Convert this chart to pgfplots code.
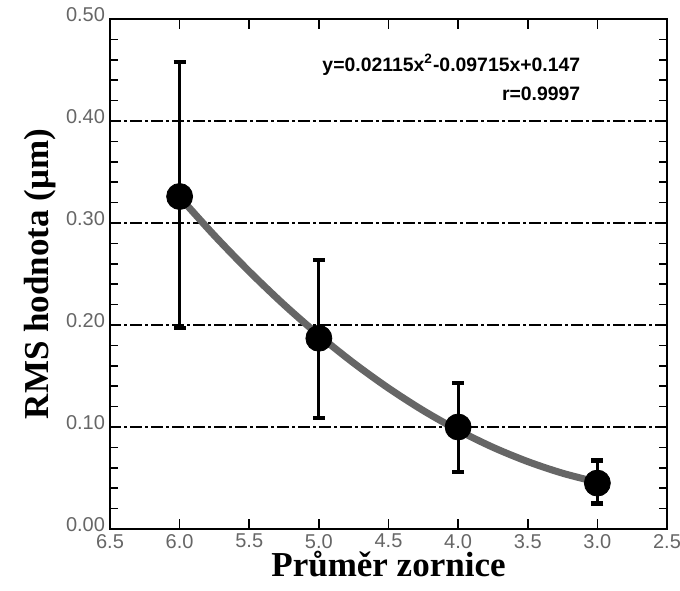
\documentclass[border=0pt]{standalone}
\usepackage{fontspec}
\setmainfont{Liberation Serif}
\newfontfamily\arial{Liberation Sans}
\usepackage{pgfplots}
\pgfplotsset{compat=1.18}
\usetikzlibrary{calc}
\begin{document}
\begin{tikzpicture}
\begin{axis}[
  scale only axis,
  width=278.5pt, height=255pt,
  x dir=reverse,
  xmin=2.5, xmax=6.5, ymin=0, ymax=0.5,
  xtick={2.5,3,3.5,4,4.5,5,5.5,6,6.5},
  ytick={0,0.1,0.2,0.3,0.4,0.5},
  minor ytick={0.02,0.04,0.06,0.08,0.12,0.14,0.16,0.18,0.22,0.24,0.26,0.28,0.32,0.34,0.36,0.38,0.42,0.44,0.46,0.48},
  xticklabel style={yshift=1pt, /pgf/number format/.cd, fixed, fixed zerofill, precision=1},
  yticklabel style={xshift=1pt, yshift=2pt, /pgf/number format/.cd, fixed, fixed zerofill, precision=2},
  /pgf/number format/assume math mode=true,
  tick label style={font=\arial\fontsize{10}{11}\selectfont, text=black!60},
  tick align=inside,
  major tick length=5pt, minor tick length=4pt,
  tick style={line width=0.8pt, black},
  axis line style={line width=0.9pt},
  ymajorgrids,
  major grid style={black, line width=0.8pt, dash pattern=on 6pt off 1.5pt on 1.5pt off 1.5pt},
  xlabel={\textbf{Průměr zornice}},
  ylabel={\textbf{RMS hodnota (μm)}},
  label style={font=\fontsize{17.5}{19}\selectfont},
  xlabel style={yshift=3pt, inner sep=1pt},
  ylabel style={yshift=-2pt},
  clip=false,
]
\addplot[no marks, line width=3.5pt, color=black!60, smooth] coordinates {
  (6.00,0.3255) (5.75,0.2877) (5.50,0.2525) (5.25,0.2199) (5.00,0.1900)
  (4.75,0.1627) (4.50,0.1381) (4.25,0.1161) (4.00,0.0968) (3.75,0.0801)
  (3.50,0.0661) (3.25,0.0547) (3.00,0.0459)
};
\addplot[only marks, mark=*, mark size=6.5pt, black,
  error bars/.cd, y dir=both, y explicit,
  error bar style={line width=1.5pt, black},
  error mark options={line width=2.2pt, mark size=3pt, rotate=90}]
  coordinates {
  (6.0,0.326) += (0,0.132) -= (0,0.129)
  (5.0,0.187) += (0,0.077) -= (0,0.078)
  (4.0,0.100) += (0,0.043) -= (0,0.044)
  (3.0,0.045) += (0,0.022) -= (0,0.020)
};
\node[anchor=base east, font=\arial\bfseries\fontsize{9.7}{11}\selectfont, inner sep=0pt] at (axis cs:3.12,0.449) {y=0.02115x\textsuperscript{2}-0.09715x+0.147};
\node[anchor=base east, font=\arial\bfseries\fontsize{9.7}{11}\selectfont, inner sep=0pt] at (axis cs:3.12,0.420) {r=0.9997};
\end{axis}
\pgfresetboundingbox
\path ($(current axis.south west)+(-55pt,-30.5pt)$) rectangle ($(current axis.north east)+(6.5pt,9.5pt)$);
\end{tikzpicture}
\end{document}
